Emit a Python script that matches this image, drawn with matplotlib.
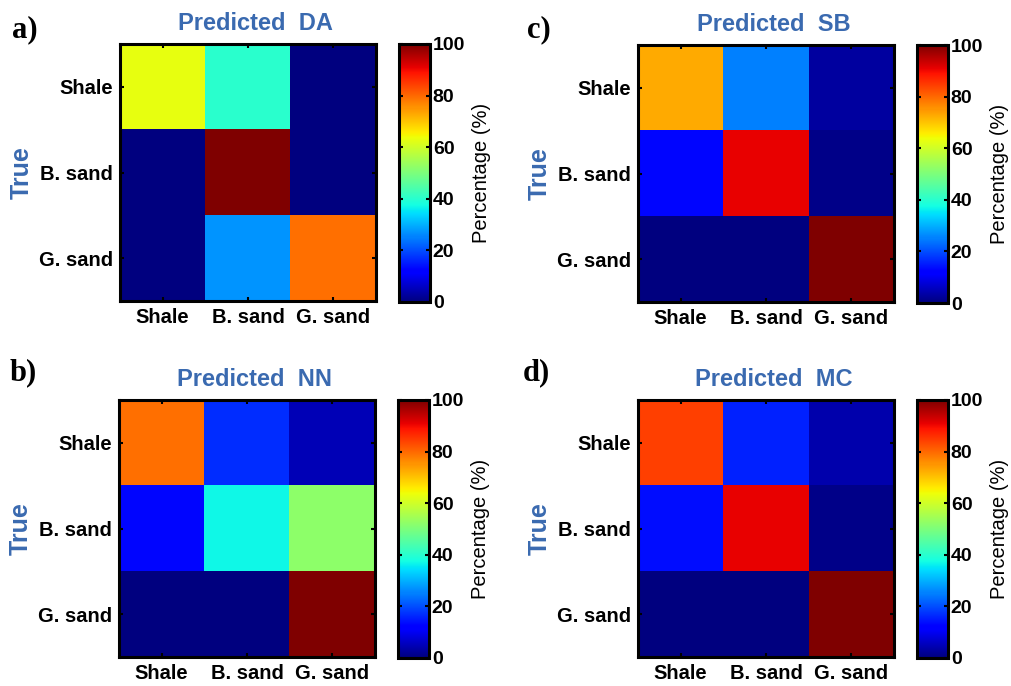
import matplotlib
matplotlib.use("Agg")
import matplotlib.pyplot as plt
import numpy as np

classes = ["Shale", "B. sand", "G. sand"]
cbar_ticks = [0, 20, 40, 60, 80, 100]

# rows = true class, columns = predicted class (percent)
da = [[63, 40, 0],
      [0, 100, 0],
      [0, 27, 79]]
sb = [[73, 25, 3],
      [13, 91, 1],
      [0, 0, 100]]
nn = [[79, 17, 5],
      [13, 37, 52],
      [0, 0, 100]]
mc = [[84, 16, 4],
      [14, 91, 1],
      [0, 0, 100]]

panels = [("a)", "Predicted  DA", da),
          ("c)", "Predicted  SB", sb),
          ("b)", "Predicted  NN", nn),
          ("d)", "Predicted  MC", mc)]

W, H = 1011, 686
fig = plt.figure(figsize=(W / 100, H / 100), dpi=100)
plt.rcParams['font.family'] = ['Liberation Sans', 'DejaVu Sans']

title_color = "#3A6AB0"
# (axes left px, axes top px, colorbar left px, panel-letter x px, letter y px)
layout = [(120, 44, 399, 12, 30),
          (638, 45, 917, 527, 30),
          (119, 400, 398, 10, 373),
          (638, 400, 917, 523, 373)]

ax_w, ax_h, cb_w = 256, 257, 31

for (letter, title, data), (lx, ty, cbx, px, py) in zip(panels, layout):
    ax = fig.add_axes([lx / W, 1 - (ty + ax_h) / H, ax_w / W, ax_h / H])
    im = ax.imshow(np.array(data), cmap="jet", vmin=0, vmax=100,
                   aspect="auto", interpolation="nearest")
    ax.set_xticks(range(3))
    ax.set_yticks(range(3))
    ax.set_xticklabels(classes, fontsize=14.5, fontweight="bold")
    ax.set_yticklabels(classes, fontsize=14.5, fontweight="bold")
    ax.tick_params(direction="in", top=True, right=True, length=3,
                   width=1.5, pad=5)
    for s in ax.spines.values():
        s.set_linewidth(2.2)
    ax.set_title(title, fontsize=17, fontweight="bold", color=title_color,
                 pad=10, x=0.53)
    ax.set_ylabel("True", fontsize=18, fontweight="bold", color=title_color,
                  labelpad=4)

    cax = fig.add_axes([cbx / W, 1 - (ty + ax_h + 1) / H, cb_w / W,
                        (ax_h + 1) / H])
    cb = fig.colorbar(im, cax=cax, ticks=cbar_ticks)
    cb.ax.tick_params(direction="in", left=True, right=True, length=3,
                      width=1.5, labelsize=14, pad=2)
    for t in cb.ax.get_yticklabels():
        t.set_fontweight("bold")
    cb.outline.set_linewidth(2.2)
    cb.set_label("Percentage (%)", fontsize=14.5, labelpad=5)

    fig.text(px / W, 1 - py / H, letter, fontsize=22, fontweight="bold",
             family=["Liberation Serif", "DejaVu Serif"], va="center",
             ha="left")

fig.savefig("out.png", dpi=100)
